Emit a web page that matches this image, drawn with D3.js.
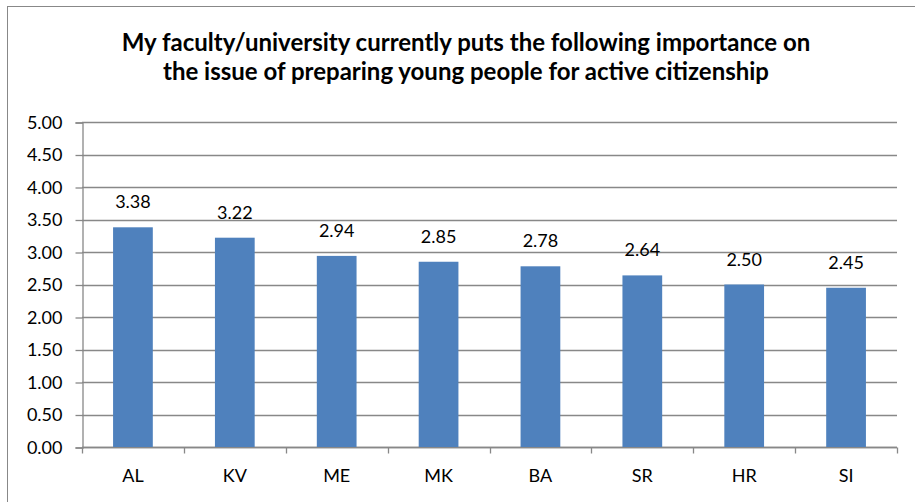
<!DOCTYPE html>
<html>
<head>
<meta charset="utf-8">
<script src="https://cdn.jsdelivr.net/npm/d3@7"></script>
<style>
  html, body { margin: 0; padding: 0; background: #fff; }
  svg { display: block; font-family: Lato, "Open Sans", sans-serif; }
</style>
</head>
<body>
<div id="chart"></div>
<script>
// chart data
const countries = ['AL', 'KV', 'ME', 'MK', 'BA', 'SR', 'HR', 'SI'];
const scores = [3.38, 3.22, 2.94, 2.85, 2.78, 2.64, 2.50, 2.45];
const yTicks = [0, 0.5, 1, 1.5, 2, 2.5, 3, 3.5, 4, 4.5, 5];
const titleLines = [
  'My faculty/university currently puts the following importance on',
  'the issue of preparing young people for active citizenship'
];

const width = 915, height = 502;
const plot = { left: 82, right: 897, top: 122, bottom: 447 };

const svg = d3.select('#chart')
  .append('svg')
  .attr('width', width)
  .attr('height', height);

// outer chart border
svg.append('rect')
  .attr('x', 7.5).attr('y', 6.5)
  .attr('width', width + 10).attr('height', height + 10)
  .attr('fill', 'none')
  .attr('stroke', '#888')
  .attr('stroke-width', 1);

// title
svg.append('g')
  .selectAll('text')
  .data(titleLines)
  .join('text')
  .attr('x', 466)
  .attr('y', (d, i) => 51 + i * 29)
  .attr('text-anchor', 'middle')
  .style('font-size', '24px')
  .style('font-weight', 'bold')
  .attr('fill', '#000')
  .text(d => d);

const x = d3.scaleBand()
  .domain(countries)
  .range([plot.left, plot.right])
  .paddingInner(0.61)
  .paddingOuter(0.305);

const y = d3.scaleLinear()
  .domain([0, 5])
  .range([plot.bottom, plot.top]);

// gridlines
svg.append('g')
  .selectAll('line')
  .data(yTicks)
  .join('line')
  .attr('x1', plot.left)
  .attr('x2', plot.right)
  .attr('y1', d => Math.round(y(d)) + 0.5)
  .attr('y2', d => Math.round(y(d)) + 0.5)
  .attr('stroke', '#888')
  .attr('stroke-width', 1.3);

// y axis
const yAxis = svg.append('g')
  .attr('transform', `translate(${plot.left + 0.5},0.5)`)
  .call(d3.axisLeft(y).tickValues(yTicks).tickFormat(d3.format('.2f')).tickSize(7).tickPadding(13));
yAxis.select('.domain').attr('stroke', '#888').attr('stroke-width', 1.3);
yAxis.selectAll('.tick line').attr('stroke', '#888').attr('stroke-width', 1.3);
yAxis.selectAll('.tick text')
  .style('font-size', '18px')
  .style('font-family', 'Lato, sans-serif')
  .attr('fill', '#000');

// x axis with ticks between categories
const xAxis = svg.append('g')
  .attr('transform', `translate(0,${plot.bottom + 0.5})`);
xAxis.append('line')
  .attr('x1', plot.left).attr('x2', plot.right)
  .attr('stroke', '#888').attr('stroke-width', 1.3);
const step = x.step();
xAxis.selectAll('line.sep')
  .data(d3.range(countries.length + 1))
  .join('line')
  .attr('class', 'sep')
  .attr('x1', i => Math.round(plot.left + i * step) + 0.5)
  .attr('x2', i => Math.round(plot.left + i * step) + 0.5)
  .attr('y1', 0).attr('y2', 6)
  .attr('stroke', '#888').attr('stroke-width', 1.3);
xAxis.selectAll('text')
  .data(countries)
  .join('text')
  .attr('x', d => x(d) + x.bandwidth() / 2)
  .attr('y', 34)
  .attr('text-anchor', 'middle')
  .style('font-size', '18px')
  .attr('fill', '#000')
  .text(d => d);

// bars
svg.append('g')
  .selectAll('rect')
  .data(countries)
  .join('rect')
  .attr('x', d => x(d))
  .attr('y', (d, i) => y(scores[i]))
  .attr('width', x.bandwidth())
  .attr('height', (d, i) => y(0) - y(scores[i]))
  .attr('fill', '#4F81BD');

// value labels
svg.append('g')
  .selectAll('text')
  .data(countries)
  .join('text')
  .attr('x', d => x(d) + x.bandwidth() / 2)
  .attr('y', (d, i) => y(scores[i]) - 19)
  .attr('text-anchor', 'middle')
  .style('font-size', '18px')
  .attr('fill', '#000')
  .text((d, i) => scores[i].toFixed(2));
</script>
</body>
</html>
